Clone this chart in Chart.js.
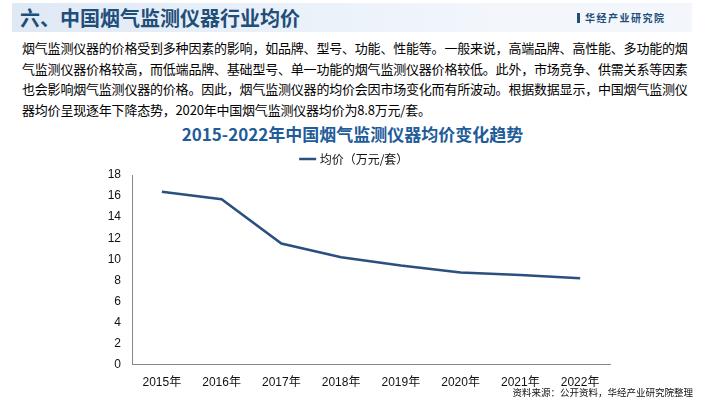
<!DOCTYPE html>
<html><head><meta charset="utf-8">
<script src="https://cdn.jsdelivr.net/npm/chart.js@4"></script>
<style>
body{margin:0;width:705px;height:400px;background:#fff;position:relative;overflow:hidden;font-family:"Noto Sans CJK SC","Noto Sans",sans-serif}
#hdr{position:absolute;left:12px;top:3px;width:497px;height:29px;background:linear-gradient(90deg,#dfe9f5,#f3f7fc);}
#hdrr{position:absolute;left:509px;top:3px;width:183px;height:29px;background:#f3f7fc}
#h1{position:absolute;left:20px;top:3px;font-size:20px;font-weight:bold;color:#1f4e79;line-height:29px}
#brand{position:absolute;left:577px;top:3px;font-size:10px;color:#1f4e79;line-height:29px;letter-spacing:1.5px;font-weight:bold}
#brand b{display:inline-block;width:3px;height:10px;background:#1f4e79;margin-right:5px;vertical-align:-1px}
#txt{position:absolute;left:22px;top:38px;width:670px;font-size:13px;line-height:20.5px;color:#000;letter-spacing:-0.2px}
#t2{position:absolute;left:0;width:705px;top:121px;text-align:center;font-size:17px;font-weight:bold;color:#1f5c99}
#src{position:absolute;right:12px;top:385px;font-size:9.5px;color:#111}
#wrap{position:absolute;left:100px;top:150px;width:520px;height:245px}
</style></head><body>
<div id="hdr"></div><div id="hdrr"></div>
<div id="h1">六、中国烟气监测仪器行业均价</div>
<div id="brand"><b></b>华经产业研究院</div>
<div id="txt">烟气监测仪器的价格受到多种因素的影响，如品牌、型号、功能、性能等。一般来说，高端品牌、高性能、多功能的烟气监测仪器价格较高，而低端品牌、基础型号、单一功能的烟气监测仪器价格较低。此外，市场竞争、供需关系等因素也会影响烟气监测仪器的价格。因此，烟气监测仪器的均价会因市场变化而有所波动。根据数据显示，中国烟气监测仪器均价呈现逐年下降态势，2020年中国烟气监测仪器均价为8.8万元/套。</div>
<div id="t2">2015-2022年中国烟气监测仪器均价变化趋势</div>
<div id="wrap"><canvas id="c"></canvas></div>
<div id="src">资料来源：公开资料，华经产业研究院整理</div>
<script>
const categories=["2015年","2016年","2017年","2018年","2019年","2020年","2021年","2022年"];
const seriesName="均价（万元/套）";
const values=[16.4,15.7,11.5,10.2,9.4,8.75,8.5,8.2];
const yTicks={min:0,max:18,step:2};
new Chart(document.getElementById('c'),{type:'line',
data:{labels:categories,datasets:[{label:seriesName,data:values,borderColor:'#2b4f7e',borderWidth:2.5,pointRadius:0,tension:0,fill:false}]},
options:{responsive:true,maintainAspectRatio:false,animation:false,
layout:{padding:{right:10,bottom:2}},
plugins:{legend:{labels:{usePointStyle:true,pointStyle:'line',boxWidth:18,color:'#111',font:{size:12,family:'"Noto Sans CJK SC"'},padding:3}},tooltip:{enabled:false}},
scales:{x:{offset:true,grid:{display:false,drawTicks:true},border:{color:'#888'},ticks:{color:'#111',font:{size:12,family:'Liberation Sans,"Noto Sans CJK SC"'}}},
y:{min:yTicks.min,max:yTicks.max,afterFit:s=>{s.width=32},grid:{display:false},border:{color:'#888'},ticks:{stepSize:yTicks.step,color:'#111',font:{size:12,family:'Liberation Sans'}}}}}});
</script></body></html>
